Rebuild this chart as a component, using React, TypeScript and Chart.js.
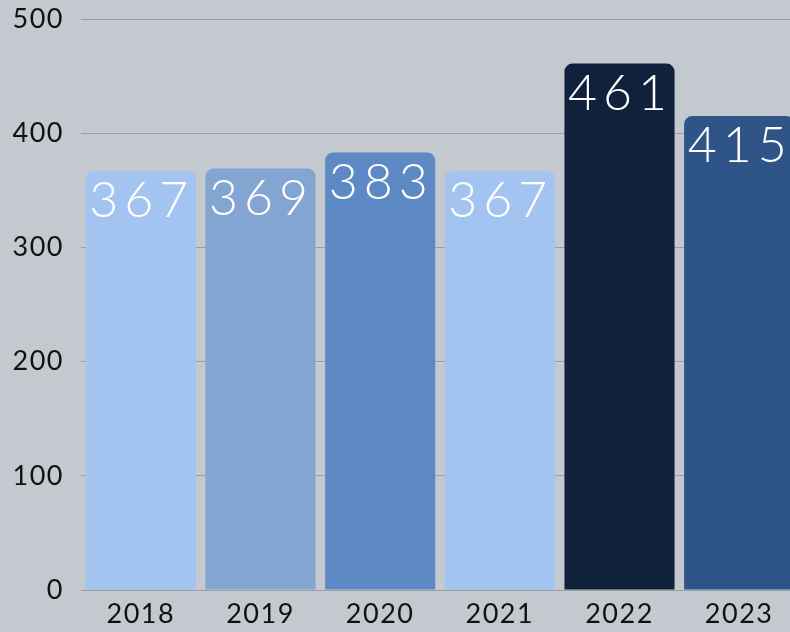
import React, { useEffect, useRef } from "react";
import { Chart, registerables } from "chart.js";

Chart.register(...registerables);

const categories: string[] = ["2018", "2019", "2020", "2021", "2022", "2023"];
const values: number[] = [367, 369, 383, 367, 461, 415];
const barColors: string[] = ["#a3c4f0", "#82a5d2", "#5d8ac4", "#a3c4f0", "#10223b", "#2f5487"];
const yTicks: number[] = [0, 100, 200, 300, 400, 500];

const FONT = "Lato, 'Open Sans', sans-serif";

const bgPlugin = {
  id: "bg",
  beforeDraw(chart: any) {
    const ctx = chart.ctx;
    ctx.fillStyle = "#c4c8cf";
    ctx.fillRect(0, 0, chart.width, chart.height);
    (ctx as any).letterSpacing = "1.5px";
  },
};

const labelPlugin = {
  id: "valueLabels",
  afterDatasetsDraw(chart: any) {
    const ctx = chart.ctx;
    const meta = chart.getDatasetMeta(0);
    ctx.save();
    ctx.fillStyle = "#ffffff";
    ctx.font = `300 50px ${FONT}`;
    ctx.textAlign = "center";
    ctx.textBaseline = "alphabetic";
    const ls = 6;
    (ctx as any).letterSpacing = ls + "px";
    meta.data.forEach((bar: any, i: number) => {
      ctx.fillText(String(values[i]), bar.x + ls / 2 - 2, bar.y + 46);
    });
    ctx.restore();
  },
};

export default function App() {
  const ref = useRef<HTMLCanvasElement>(null);
  useEffect(() => {
    if (!ref.current) return;
    const chart = new Chart(ref.current, {
      type: "bar",
      data: {
        labels: categories,
        datasets: [
          {
            data: values,
            backgroundColor: barColors,
            borderRadius: { topLeft: 8, topRight: 8, bottomLeft: 0, bottomRight: 0 },
            borderSkipped: false,
            categoryPercentage: 1,
            barPercentage: 0.92,
          },
        ],
      },
      options: {
        animation: false,
        responsive: false,
        maintainAspectRatio: false,
        layout: { padding: { top: 19, right: 1, left: 0, bottom: 0 } },
        plugins: { legend: { display: false }, tooltip: { enabled: false } },
        scales: {
          x: {
            grid: { display: false, drawTicks: false },
            border: { display: false },
            ticks: { color: "#111", font: { family: FONT, size: 27 }, padding: 8 },
            afterFit(scale: any) {
              scale.height = 42;
              scale.paddingLeft = 0;
              scale.paddingRight = 0;
            },
          },
          y: {
            min: 0,
            max: 500,
            afterBuildTicks(scale: any) {
              scale.ticks = yTicks.map((v) => ({ value: v }));
            },
            grid: { color: "#9a9ea6", lineWidth: 1, drawTicks: false },
            border: { display: false },
            ticks: { color: "#111", font: { family: FONT, size: 27 }, padding: 17 },
            afterFit(scale: any) {
              scale.width = 81;
              scale.paddingTop = 0;
              scale.paddingBottom = 0;
            },
          },
        },
      },
      plugins: [bgPlugin, labelPlugin],
    });
    return () => chart.destroy();
  }, []);
  return (
    <div style={{ position: "fixed", left: 0, top: 0, width: 790, height: 632, overflow: "hidden" }}>
      <canvas ref={ref} width={800} height={632} style={{ display: "block" }} />
    </div>
  );
}
